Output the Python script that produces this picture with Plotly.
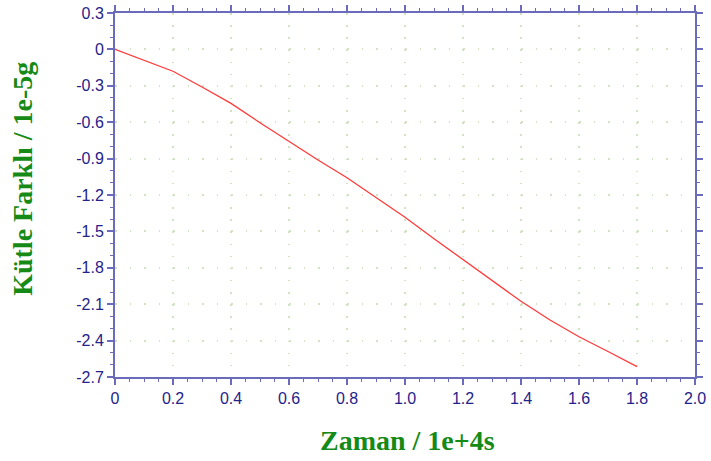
import plotly.graph_objects as go

# Mass difference over time
zaman = [0.0, 0.1, 0.2, 0.3, 0.4, 0.5, 0.6, 0.7, 0.8, 0.9,
         1.0, 1.1, 1.2, 1.3, 1.4, 1.5, 1.6, 1.7, 1.8]
kutle_farki = [0.0, -0.087, -0.18, -0.31, -0.445, -0.604, -0.76, -0.911, -1.058, -1.218,
               -1.384, -1.56, -1.731, -1.903, -2.076, -2.23, -2.368, -2.49, -2.615]

x_tick_vals = [0, 0.2, 0.4, 0.6, 0.8, 1.0, 1.2, 1.4, 1.6, 1.8, 2.0]
x_tick_text = ["0", "0.2", "0.4", "0.6", "0.8", "1.0", "1.2", "1.4", "1.6", "1.8", "2.0"]
y_tick_vals = [0.3, 0, -0.3, -0.6, -0.9, -1.2, -1.5, -1.8, -2.1, -2.4, -2.7]
y_tick_text = ["0.3", "0", "-0.3", "-0.6", "-0.9", "-1.2", "-1.5", "-1.8", "-2.1", "-2.4", "-2.7"]

AXIS_COLOR = "#6b6bbd"
TICK_FONT = dict(family="Liberation Sans, Arial, sans-serif", size=16, color="#1f238a")
TITLE_FONT = dict(family="Liberation Serif, Times New Roman, serif", size=28, color="#168a16")
GRID_COLOR = "#d2e2c2"

W, H = 711, 461
M = dict(l=115, r=16, t=13, b=84)
plot_h = H - M["t"] - M["b"]
plot_w = W - M["l"] - M["r"]
y_step = plot_h / 30.0   # pixels per 0.1 on the y axis
x_step = plot_w / 40.0   # pixels per 0.05 on the x axis

fig = go.Figure()
fig.add_trace(go.Scatter(
    x=zaman, y=kutle_farki, mode="lines",
    line=dict(color="#ff3a3a", width=1.3),
    showlegend=False, hoverinfo="skip",
))

common = dict(
    showline=True, linecolor=AXIS_COLOR, linewidth=2, mirror="ticks",
    ticks="outside", ticklen=6, tickwidth=1.5, tickcolor=AXIS_COLOR,
    tickfont=TICK_FONT, showgrid=True, gridcolor=GRID_COLOR, gridwidth=1.5,
    zeroline=False, fixedrange=True, automargin=False,
)

fig.update_xaxes(
    range=[0, 2.0], tickmode="array", tickvals=x_tick_vals, ticktext=x_tick_text,
    griddash=f"1.5px,{y_step - 1.5:.3f}px",
    minor=dict(dtick=0.05, tick0=0, ticks="outside", ticklen=3, tickwidth=1.3,
               tickcolor=AXIS_COLOR, showgrid=False),
    **common,
)
fig.update_yaxes(
    range=[-2.7, 0.3], tickmode="array", tickvals=y_tick_vals, ticktext=y_tick_text,
    griddash=f"1.5px,{x_step - 1.5:.3f}px",
    minor=dict(dtick=0.1, tick0=0, ticks="outside", ticklen=3, tickwidth=1.3,
               tickcolor=AXIS_COLOR, showgrid=False),
    **common,
)

fig.add_annotation(
    text="<b>Zaman / 1e+4s</b>", xref="paper", yref="paper",
    x=0.505, y=-0.175, xanchor="center", yanchor="middle",
    showarrow=False, font=TITLE_FONT,
)
fig.add_annotation(
    text="<b>Kütle Farklı / 1e-5g</b>", xref="paper", yref="paper",
    x=-0.16, y=0.545, xanchor="center", yanchor="middle", textangle=-90,
    showarrow=False, font=TITLE_FONT,
)

fig.update_layout(
    width=W, height=H, margin=M,
    paper_bgcolor="white", plot_bgcolor="white",
)

fig.write_html("out.html")
